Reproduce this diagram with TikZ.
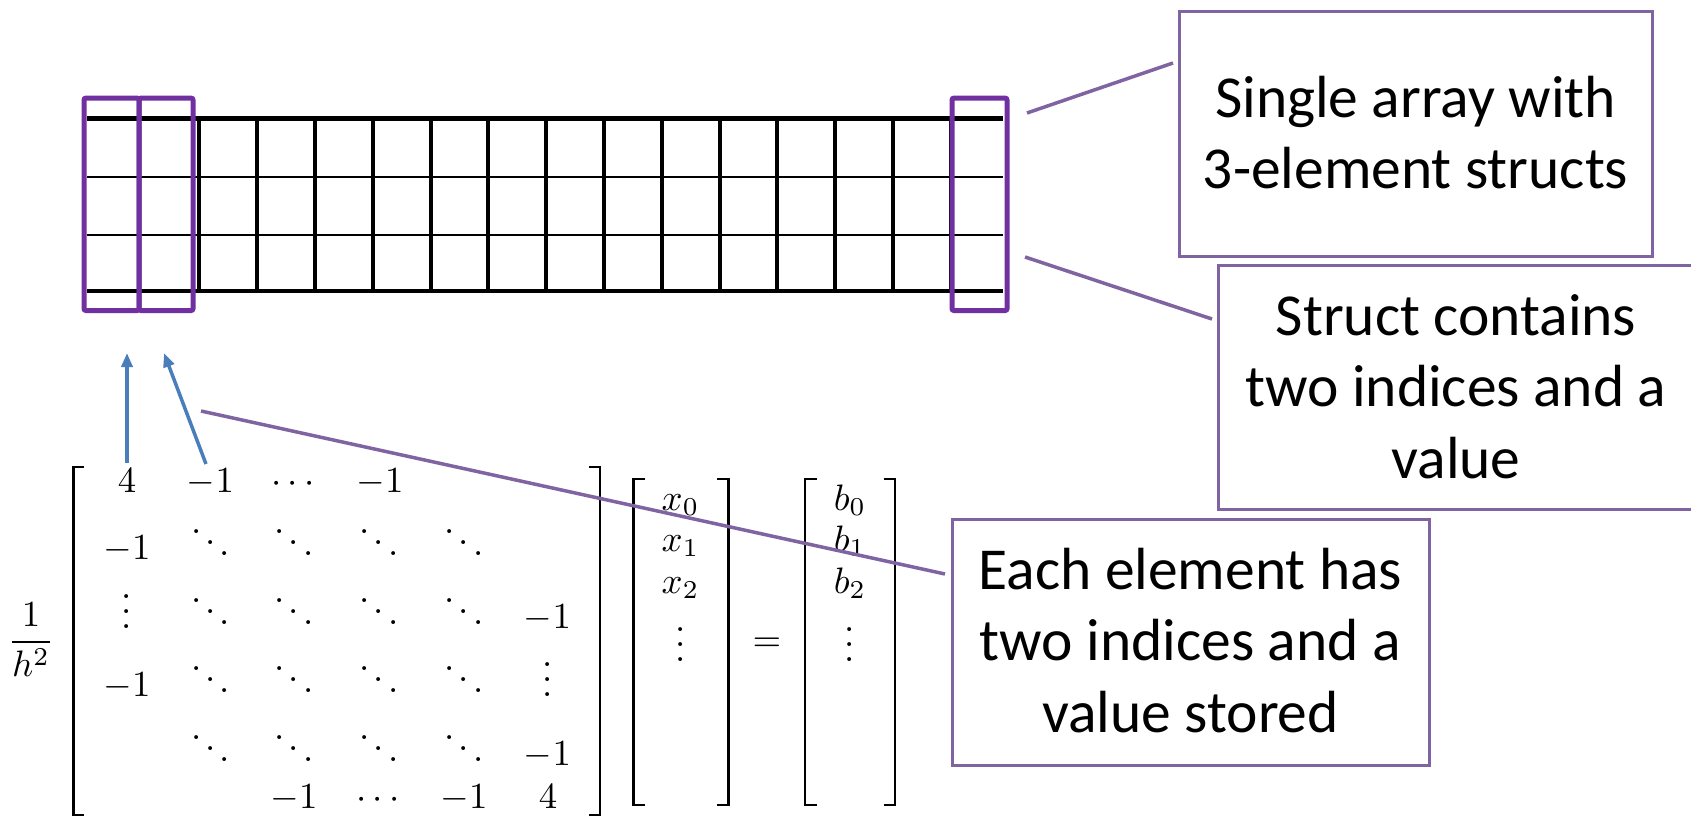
\documentclass[tikz,border=0pt]{standalone}
\usepackage{fontspec}
\newfontfamily\boxfont{Carlito}
\usetikzlibrary{arrows.meta}
\definecolor{gridpurple}{HTML}{7030A0}
\definecolor{calloutpurple}{HTML}{8064A2}
\definecolor{arrowblue}{HTML}{4A7EBB}
\newcommand{\boxtxt}[1]{\parbox[t]{470pt}{\centering\boxfont\fontsize{59.5}{71.5}\selectfont #1}}
\begin{document}
\begin{tikzpicture}[x=1pt,y=-1pt,
  mth/.style={scale=3.68, transform shape, inner sep=0pt, anchor=base},
  dts/.style={mth, text height=9.1pt, text depth=0pt},
  colbox/.style={draw=gridpurple, line width=5pt, rounded corners=2pt, inner sep=0pt, minimum height=212.5pt},
  textbox/.style={draw=calloutpurple, line width=3pt, inner sep=0pt},
  boxtext/.style={inner sep=0pt, anchor=base},
  callout/.style={draw=calloutpurple, line width=3.5pt},
  blueline/.style={draw=arrowblue, line width=3.5pt, -{Triangle[length=14pt,width=11pt]}},
  brk/.style={line width=2.9pt},
  thickrule/.style={line width=4.6pt},
  thinrule/.style={line width=2.3pt},
  vertrule/.style={line width=4pt}
]
\useasboundingbox (0,0) rectangle (1691,817);

% ---------- array grid ----------
\foreach \yy/\st in {118.3/thickrule,177.2/thinrule,235.2/thinrule,290.8/thickrule}
  \draw[\st] (87,\yy) -- (1003,\yy);
\draw[vertrule] (139,118.3) -- (139,290.8);
\foreach \k in {0,...,13}
  \draw[vertrule] ({199.3+57.8*\k},118.3) -- ({199.3+57.8*\k},290.8);

% purple struct boxes
\node[colbox, minimum width=55pt] (colA) at (111.5,204.3) {};
\node[colbox, minimum width=54pt] (colB) at (166,204.3) {};
\node[colbox, minimum width=55pt] (colR) at (979.5,204.3) {};

% ---------- text boxes ----------
\node[textbox, minimum width=473pt, minimum height=245pt] (box1) at (1415.5,133.5) {};
\node[textbox, minimum width=476pt, minimum height=244pt] (box2) at (1456,387) {};
\node[textbox, minimum width=477pt, minimum height=246pt] (box3) at (1190.5,642) {};
\node[boxtext] (txt1) at (1415.5,117) {\boxtxt{Single array with\\3-element structs}};
\node[boxtext] (txt2) at (1456,335) {\boxtxt{Struct contains\\two indices and a\\value}};
\node[boxtext] (txt3) at (1190.5,589) {\boxtxt{Each element has\\two indices and a\\value stored}};

% ---------- matrix equation ----------
\node[mth] (frac) at (31,651) {$\displaystyle\frac{1}{h^2}$};
% brackets
\draw[brk] (84,467) -- (73.5,467) -- (73.5,815) -- (84,815);
\draw[brk] (589,467) -- (600,467) -- (600,815) -- (589,815);
\draw[brk] (645,479) -- (633.5,479) -- (633.5,805) -- (645,805);
\draw[brk] (717,479) -- (728.5,479) -- (728.5,805) -- (717,805);
\draw[brk] (816.5,479) -- (805,479) -- (805,805) -- (816.5,805);
\draw[brk] (883.5,479) -- (895,479) -- (895,805) -- (883.5,805);
% row 1
\node[mth] (m11) at (127,492) {$4$};
\node[mth] (m12) at (210.5,492) {$-1$};
\node[mth] (m13) at (293,492) {$\cdots$};
\node[mth] (m14) at (380,492) {$-1$};
% row 2
\node[mth] (m21) at (127,559) {$-1$};
\node[dts] (m22) at (210.5,559) {$\ddots$};
\node[dts] (m23) at (294,559) {$\ddots$};
\node[dts] (m24) at (379,559) {$\ddots$};
\node[dts] (m25) at (464,559) {$\ddots$};
% row 3
\node[dts] (m31) at (127,628) {$\vdots$};
\node[dts] (m32) at (210.5,628) {$\ddots$};
\node[dts] (m33) at (294,628) {$\ddots$};
\node[dts] (m34) at (379,628) {$\ddots$};
\node[dts] (m35) at (464,628) {$\ddots$};
\node[mth] (m36) at (547.5,628) {$-1$};
% row 4
\node[mth] (m41) at (127,696) {$-1$};
\node[dts] (m42) at (210.5,696) {$\ddots$};
\node[dts] (m43) at (294,696) {$\ddots$};
\node[dts] (m44) at (379,696) {$\ddots$};
\node[dts] (m45) at (464,696) {$\ddots$};
\node[dts] (m46) at (547.5,696) {$\vdots$};
% row 5
\node[dts] (m52) at (210.5,765) {$\ddots$};
\node[dts] (m53) at (294,765) {$\ddots$};
\node[dts] (m54) at (379,765) {$\ddots$};
\node[dts] (m55) at (464,765) {$\ddots$};
\node[mth] (m56) at (547.5,765) {$-1$};
% row 6
\node[mth] (m63) at (294,808) {$-1$};
\node[mth] (m64) at (378,808) {$\cdots$};
\node[mth] (m65) at (464,808) {$-1$};
\node[mth] (m66) at (548,808) {$4$};
% x vector
\node[mth] (x0) at (680.5,510) {$x_0$};
\node[mth] (x1) at (680.5,551) {$x_1$};
\node[mth] (x2) at (680.5,593) {$x_2$};
\node[dts] (x3) at (681,661) {$\vdots$};
\node[mth] (eq) at (767,651) {$=$};
% b vector
\node[mth] (b0) at (850,510) {$b_0$};
\node[mth] (b1) at (850,551) {$b_1$};
\node[mth] (b2) at (850,593) {$b_2$};
\node[dts] (b3) at (850,661) {$\vdots$};

% ---------- arrows and callouts ----------
\coordinate (a1s) at (127,463);
\coordinate (a1e) at (127,353);
\coordinate (a2s) at (206,464);
\coordinate (a2e) at (164,353);
\draw[blueline] (a1s) -- (a1e);
\draw[blueline] (a2s) -- (a2e);

\coordinate (k1s) at (1027,113);
\coordinate (k1e) at (1173,63);
\coordinate (k2s) at (1025,257);
\coordinate (k2e) at (1212,319);
\coordinate (k3s) at (201,411);
\coordinate (k3e) at (945,574);
\draw[callout] (k1s) -- (k1e);
\draw[callout] (k2s) -- (k2e);
\draw[callout] (k3s) -- (k3e);
\end{tikzpicture}
\end{document}
